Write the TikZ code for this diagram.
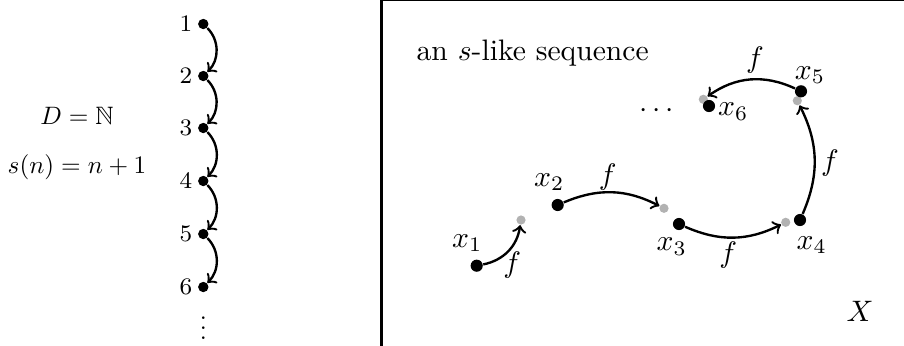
\documentclass[tikz,border=0pt]{standalone}
\usepackage{amssymb}
\usetikzlibrary{arrows}
\begin{document}
\begin{tikzpicture}[x=0.3376pt,y=-0.3376pt,
  sdot/.style={circle,fill=black,inner sep=0pt,minimum size=3.5pt},
  bdot/.style={circle,fill=black,inner sep=0pt,minimum size=4.1pt},
  gdot/.style={circle,fill=black!30,inner sep=0pt,minimum size=3.1pt},
  arr/.style={->,thick},
  lab/.style={inner sep=0pt},
  llab/.style={inner sep=0pt,scale=0.85}]
\useasboundingbox (0,0) rectangle (904,345);
\clip (0,0) rectangle (904,345);
% left part
\node[llab] (D) at (77,116) {$D=\mathbb{N}$};
\node[llab] (S) at (77,167) {$s(n)=n+1$};
\foreach \i/\y in {1/24,2/76,3/128,4/181,5/234,6/287}{
  \node[sdot,label={[label distance=1.6pt,inner sep=0pt]left:\footnotesize$\i$}] (n\i) at (203.3,\y) {};
}
\foreach \i/\j in {1/2,2/3,3/4,4/5,5/6}{
  \draw[arr] (n\i) to[bend left=45] (n\j);
}
\node[llab] (vd) at (203.3,321) {$\vdots$};
% frame
\draw[thick] (381.5,0.3) rectangle (960,400);
\node[lab] (title) at (532.7,53) {an $s$-like sequence};
\node[bdot] (x1) at (476.7,265.7) {};
\node[gdot] (g2) at (521,220) {};
\node[bdot] (x2) at (557.7,205) {};
\node[gdot] (g3) at (664,208.3) {};
\node[bdot] (x3) at (679,224) {};
\node[gdot] (g4) at (785.7,222.3) {};
\node[bdot] (x4) at (800,220) {};
\node[gdot] (g5) at (797.3,100.7) {};
\node[gdot] (g6) at (703.3,99.3) {};
\node[bdot] (x5) at (801,91.3) {};
\node[bdot] (x6) at (709,106) {};
\node[lab] (l1) at (467.3,243) {$x_1$};
\node[lab] (l2) at (549.3,182) {$x_2$};
\node[lab] (l3) at (671.7,246.7) {$x_3$};
\node[lab] (l4) at (811.7,245) {$x_4$};
\node[lab] (l5) at (810,75) {$x_5$};
\node[lab] (l6) at (733.3,111.7) {$x_6$};
\node[lab] (dots) at (656.7,111) {$\cdots$};
\node[lab] (X) at (860,311.7) {$X$};
\draw[arr] (x1) to[bend right=35] (g2);
\node[lab] (f1) at (512.3,265) {$f$};
\draw[arr] (x2) to[bend left=25] (g3);
\node[lab] (f2) at (607.7,176.7) {$f$};
\draw[arr] (x3) to[bend right=25] (g4);
\node[lab] (f3) at (728.3,255) {$f$};
\draw[arr] (x4) to[bend right=25] (g5);
\node[lab] (f4) at (830,163.3) {$f$};
\draw[arr] (x5) to[bend right=30] (g6);
\node[lab] (f5) at (755,60) {$f$};
\end{tikzpicture}
\end{document}
